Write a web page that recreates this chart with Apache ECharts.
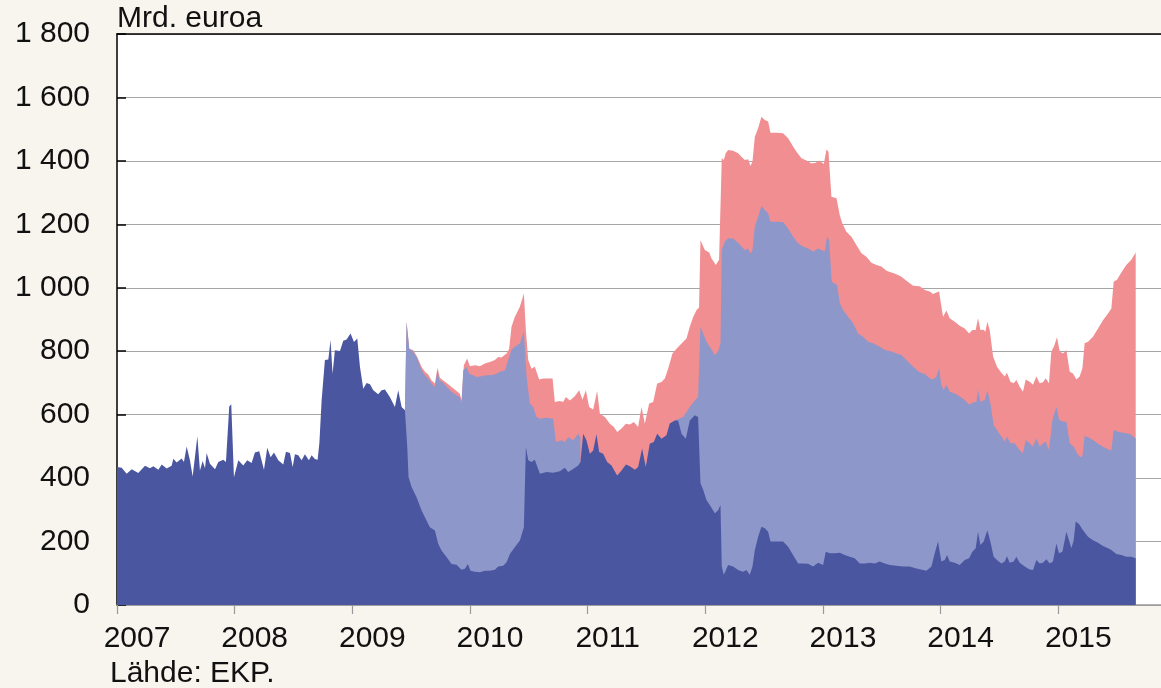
<!DOCTYPE html>
<html>
<head>
<meta charset="utf-8">
<title>Eurojärjestelmän rahapoliittiset erät</title>
<script src="https://cdn.jsdelivr.net/npm/echarts@6/dist/echarts.min.js"></script>
<style>
  html, body { margin: 0; padding: 0; background: #f8f4ee; }
  #chart { width: 1161px; height: 688px; }
</style>
</head>
<body>
<div id="chart"></div>
<script>
// Perusrahoitusoperaatiot (tumma sininen), pinnan taso
const mroDates = [
  2007.000, 2007.040, 2007.082, 2007.125, 2007.181, 2007.238, 2007.280, 2007.309, 2007.351, 2007.380,
  2007.422, 2007.464, 2007.479, 2007.507, 2007.549, 2007.569, 2007.592, 2007.620, 2007.643, 2007.683,
  2007.705, 2007.728, 2007.748, 2007.762, 2007.790, 2007.833, 2007.861, 2007.903, 2007.926, 2007.954,
  2007.971, 2007.994, 2008.031, 2008.073, 2008.107, 2008.144, 2008.172, 2008.209, 2008.249, 2008.277,
  2008.306, 2008.334, 2008.371, 2008.413, 2008.436, 2008.470, 2008.493, 2008.512, 2008.541, 2008.569,
  2008.597, 2008.631, 2008.654, 2008.682, 2008.705, 2008.720,
  2008.739, 2008.767, 2008.796, 2008.815, 2008.832, 2008.852, 2008.895, 2008.923, 2008.951, 2008.985,
  2009.014, 2009.042, 2009.065, 2009.093, 2009.121, 2009.150, 2009.178, 2009.220, 2009.249, 2009.277,
  2009.319, 2009.362, 2009.390, 2009.419, 2009.447, 2009.467, 2009.478, 2009.504, 2009.546, 2009.589,
  2009.617, 2009.659, 2009.702, 2009.730, 2009.758, 2009.801, 2009.843, 2009.886, 2009.928, 2009.957,
  2009.982, 2010.005, 2010.042, 2010.084, 2010.127, 2010.169, 2010.212, 2010.240, 2010.282, 2010.311,
  2010.339, 2010.381, 2010.424, 2010.458, 2010.475, 2010.495, 2010.523, 2010.551, 2010.594, 2010.651,
  2010.707, 2010.764, 2010.806, 2010.835, 2010.877, 2010.920, 2010.939, 2010.962, 2010.990, 2011.019,
  2011.047, 2011.075, 2011.098, 2011.132, 2011.166, 2011.203, 2011.251, 2011.288, 2011.325, 2011.359,
  2011.401, 2011.429, 2011.463, 2011.494, 2011.528, 2011.562, 2011.591, 2011.628, 2011.670, 2011.698,
  2011.741, 2011.769, 2011.798, 2011.834, 2011.868, 2011.911, 2011.939,
  2011.959, 2011.982, 2012.010, 2012.038, 2012.081, 2012.109, 2012.129, 2012.140, 2012.157, 2012.194,
  2012.236, 2012.279, 2012.321, 2012.350, 2012.378, 2012.401, 2012.421, 2012.449, 2012.477, 2012.506,
  2012.534, 2012.554, 2012.605, 2012.661, 2012.704, 2012.746, 2012.789, 2012.831, 2012.874, 2012.916,
  2012.959, 2013.001, 2013.024, 2013.058, 2013.100, 2013.143, 2013.185, 2013.228, 2013.270, 2013.313,
  2013.355, 2013.398, 2013.440, 2013.483, 2013.525, 2013.568, 2013.624, 2013.681, 2013.737, 2013.794,
  2013.851, 2013.879, 2013.922, 2013.950, 2013.978, 2014.006, 2014.035, 2014.055, 2014.077, 2014.120,
  2014.162, 2014.205, 2014.242, 2014.270, 2014.298, 2014.318, 2014.338, 2014.366, 2014.397, 2014.423,
  2014.451, 2014.479, 2014.516, 2014.545, 2014.564, 2014.587, 2014.621, 2014.644, 2014.672, 2014.715,
  2014.757, 2014.785, 2014.814, 2014.842, 2014.870, 2014.899, 2014.927, 2014.955, 2014.984, 2015.006,
  2015.035, 2015.069, 2015.091, 2015.111, 2015.131, 2015.148, 2015.176, 2015.210, 2015.253, 2015.295,
  2015.338, 2015.380, 2015.423, 2015.451, 2015.493, 2015.536, 2015.578, 2015.621, 2015.658
];
const mroValues = [
  435, 433, 414, 428, 416, 439, 431, 437, 426, 443,
  430, 439, 461, 449, 462, 451, 500, 456, 405, 532,
  424, 454, 431, 479, 445, 428, 451, 458, 451, 626,
  633, 403, 456, 440, 456, 448, 481, 485, 426, 496,
  466, 481, 456, 443, 483, 479, 435, 475, 472, 456,
  475, 456, 472, 460, 458, 511,
  645, 772, 774, 835, 729, 803, 801, 833, 837, 856,
  829, 840, 750, 682, 700, 696, 677, 664, 677, 679,
  656, 624, 677, 624, 614, 498, 403, 372, 340, 298,
  277, 245, 235, 193, 172, 151, 129, 127, 111, 114,
  129, 108, 105, 103, 108, 108, 111, 121, 124, 135,
  161, 182, 203, 245, 498, 456, 451, 458, 414, 419,
  417, 422, 433, 419, 429, 440, 451, 540, 519, 477,
  487, 538, 482, 477, 451, 440, 408, 424, 443, 437,
  426, 435, 493, 435, 508, 514, 540, 524, 535, 572,
  582, 582, 540, 524, 582, 598, 593,
  384, 363, 331, 315, 289, 299, 315, 121, 95, 126,
  121, 110, 105, 110, 95, 121, 173, 215, 247, 242,
  231, 200, 200, 200, 184, 158, 131, 131, 130, 121,
  133, 126, 168, 163, 163, 165, 158, 152, 147, 131,
  131, 133, 131, 137, 131, 126, 124, 121, 121, 115,
  110, 108, 121, 163, 200, 137, 142, 158, 137, 133,
  126, 142, 147, 168, 179, 231, 189, 200, 236, 200,
  152, 142, 131, 137, 154, 133, 137, 152, 133, 121,
  112, 110, 142, 131, 133, 144, 131, 137, 194, 163,
  168, 231, 204, 179, 204, 263, 255, 236, 215, 204,
  196, 186, 179, 173, 161, 158, 152, 152, 147
];

// Perusrahoitus + pitempiaikaiset operaatiot (vaalea sininen), pinnan taso
const ltroDates = [
  2009.447, 2009.461, 2009.484, 2009.518, 2009.552, 2009.589, 2009.617, 2009.645, 2009.674, 2009.702,
  2009.724, 2009.739, 2009.767, 2009.801, 2009.843, 2009.886, 2009.914, 2009.928, 2009.943, 2009.971,
  2009.993, 2010.027, 2010.056, 2010.098, 2010.141, 2010.183, 2010.226, 2010.254, 2010.297, 2010.325,
  2010.353, 2010.381, 2010.424, 2010.458, 2010.481, 2010.509, 2010.537, 2010.566, 2010.594, 2010.651,
  2010.707, 2010.730, 2010.778, 2010.806, 2010.835, 2010.877, 2010.920, 2010.939, 2010.960,
  2011.741, 2011.812, 2011.868, 2011.911, 2011.939,
  2011.959, 2011.982, 2012.010, 2012.038, 2012.081, 2012.109, 2012.129, 2012.140, 2012.166, 2012.194,
  2012.236, 2012.279, 2012.307, 2012.336, 2012.364, 2012.384, 2012.401, 2012.421, 2012.449, 2012.477,
  2012.506, 2012.534, 2012.554, 2012.605, 2012.661, 2012.704, 2012.746, 2012.789, 2012.831, 2012.874,
  2012.916, 2012.959, 2012.987, 2013.015, 2013.035, 2013.052, 2013.075, 2013.120, 2013.143, 2013.171,
  2013.213, 2013.256, 2013.299, 2013.341, 2013.383, 2013.426, 2013.483, 2013.525, 2013.582, 2013.624,
  2013.667, 2013.709, 2013.766, 2013.822, 2013.865, 2013.907, 2013.936, 2013.964, 2013.987, 2014.006,
  2014.026, 2014.049, 2014.077, 2014.120, 2014.162, 2014.205, 2014.242, 2014.276, 2014.304, 2014.318,
  2014.338, 2014.375, 2014.397, 2014.423, 2014.451, 2014.479, 2014.516, 2014.545, 2014.564, 2014.593,
  2014.630, 2014.649, 2014.672, 2014.700, 2014.723, 2014.757, 2014.785, 2014.814, 2014.842, 2014.870,
  2014.893, 2014.921, 2014.950, 2014.984, 2015.006, 2015.040, 2015.069, 2015.097, 2015.131, 2015.159,
  2015.188, 2015.205, 2015.224, 2015.253, 2015.295, 2015.338, 2015.380, 2015.423, 2015.451, 2015.471,
  2015.507, 2015.550, 2015.593, 2015.621, 2015.658
];
const ltroTopValues = [
  614, 893, 808, 798, 777, 740, 724, 714, 698, 687,
  740, 708, 703, 689, 672, 661, 656, 635, 740, 750,
  729, 724, 719, 721, 724, 724, 729, 735, 740, 772,
  805, 814, 824, 861, 719, 635, 624, 593, 587, 590,
  587, 514, 519, 514, 529, 519, 540, 529, null,
  582, 593, 624, 645, 656,
  877, 856, 830, 814, 788, 799, 825, 1119, 1145, 1156,
  1155, 1142, 1130, 1119, 1124, 1107, 1119, 1193, 1224, 1258,
  1245, 1235, 1208, 1208, 1207, 1187, 1161, 1140, 1130, 1124,
  1114, 1124, 1119, 1114, 1161, 1150, 1019, 1009, 951, 930,
  909, 888, 856, 846, 830, 825, 814, 804, 799, 793,
  788, 772, 751, 734, 728, 715, 711, 720, 746, 694,
  678, 694, 672, 667, 657, 646, 631, 638, 641, 678,
  641, 646, 676, 636, 567, 552, 531, 515, 531, 510,
  510, 499, 489, 478, 520, 510, 499, 525, 499, 510,
  515, 489, 583, 625, 585, 578, 578, 510, 499, 478,
  466, 470, 533, 529, 520, 508, 499, 491, 487, 552,
  546, 543, 541, 536, 525
];

// Kaikki erät yhteensä, arvopaperit mukaan lukien (punainen), pinnan taso
const totalDates = [
  2009.447, 2009.461, 2009.484, 2009.518, 2009.552, 2009.589, 2009.617, 2009.645, 2009.674, 2009.702,
  2009.724, 2009.744, 2009.773, 2009.807, 2009.843, 2009.886, 2009.914, 2009.928, 2009.948, 2009.976,
  2009.999, 2010.042, 2010.084, 2010.127, 2010.169, 2010.212, 2010.240, 2010.268, 2010.311, 2010.333,
  2010.353, 2010.381, 2010.424, 2010.458, 2010.475, 2010.495, 2010.523, 2010.551, 2010.588, 2010.622,
  2010.665, 2010.702, 2010.721, 2010.764, 2010.792, 2010.815, 2010.849, 2010.891, 2010.928, 2010.956,
  2010.985, 2011.013, 2011.047, 2011.081, 2011.104, 2011.146, 2011.189, 2011.223, 2011.251, 2011.288,
  2011.325, 2011.359, 2011.393, 2011.429, 2011.458, 2011.486, 2011.523, 2011.557, 2011.591, 2011.628,
  2011.656, 2011.684, 2011.721, 2011.755, 2011.798, 2011.840, 2011.868, 2011.897, 2011.925, 2011.947,
  2011.959, 2011.996, 2012.033, 2012.052, 2012.089, 2012.117, 2012.140, 2012.157, 2012.174, 2012.194,
  2012.236, 2012.279, 2012.307, 2012.336, 2012.364, 2012.384, 2012.401, 2012.421, 2012.449, 2012.477,
  2012.506, 2012.534, 2012.554, 2012.605, 2012.661, 2012.704, 2012.746, 2012.775, 2012.817, 2012.860,
  2012.902, 2012.939, 2012.967, 2013.007, 2013.030, 2013.047, 2013.072, 2013.115, 2013.143, 2013.165,
  2013.199, 2013.242, 2013.284, 2013.327, 2013.369, 2013.412, 2013.454, 2013.497, 2013.539, 2013.582,
  2013.624, 2013.667, 2013.709, 2013.766, 2013.822, 2013.865, 2013.907, 2013.936, 2013.964, 2013.987,
  2013.998, 2014.021, 2014.049, 2014.077, 2014.120, 2014.162, 2014.205, 2014.242, 2014.270, 2014.298,
  2014.318, 2014.338, 2014.366, 2014.380, 2014.397, 2014.417, 2014.446, 2014.479, 2014.516, 2014.545,
  2014.564, 2014.593, 2014.621, 2014.644, 2014.672, 2014.700, 2014.723, 2014.757, 2014.785, 2014.814,
  2014.842, 2014.870, 2014.893, 2014.921, 2014.941, 2014.964, 2014.989, 2015.012, 2015.040, 2015.069,
  2015.097, 2015.125, 2015.154, 2015.182, 2015.205, 2015.224, 2015.253, 2015.295, 2015.338, 2015.380,
  2015.423, 2015.451, 2015.471, 2015.499, 2015.536, 2015.578, 2015.621, 2015.658
];
const totalTopValues = [
  614, 893, 808, 803, 782, 750, 735, 727, 708, 698,
  748, 716, 708, 698, 687, 675, 666, 645, 756, 777,
  753, 756, 753, 761, 766, 772, 782, 780, 793, 808,
  877, 908, 940, 982, 866, 772, 745, 751, 711, 714,
  714, 714, 640, 643, 640, 656, 645, 658, 677, 647,
  677, 624, 616, 675, 603, 593, 571, 561, 545, 556,
  571, 569, 577, 561, 624, 571, 635, 640, 698, 703,
  714, 745, 793, 808, 824, 840, 877, 908, 929, 938,
  1150, 1119, 1111, 1093, 1072, 1088, 1408, 1403, 1424, 1434,
  1432, 1424, 1413, 1403, 1405, 1384, 1398, 1476, 1503, 1539,
  1529, 1524, 1489, 1489, 1487, 1471, 1445, 1429, 1408, 1401,
  1392, 1394, 1401, 1390, 1436, 1429, 1287, 1282, 1229, 1203,
  1177, 1161, 1135, 1109, 1098, 1079, 1072, 1067, 1054, 1048,
  1043, 1035, 1022, 1006, 1005, 993, 988, 980, 985, 988,
  961, 909, 928, 904, 893, 880, 872, 856, 867, 867,
  904, 867, 868, 861, 893, 867, 783, 751, 732, 720,
  732, 704, 699, 709, 688, 672, 711, 704, 694, 720,
  699, 702, 715, 699, 799, 816, 844, 799, 793, 804,
  735, 730, 711, 720, 746, 825, 830, 846, 872, 898,
  919, 935, 1019, 1025, 1048, 1072, 1088, 1111
];

const yearTicks = [2007, 2008, 2009, 2010, 2011, 2012, 2013, 2014, 2015];

const FONT = "'Liberation Sans', Arial, sans-serif";
const zip = (xs, ys) => xs.map((x, i) => [x, ys[i]]);
const fmtThousands = (v) => String(v).replace(/\B(?=(\d{3})+(?!\d))/g, ' ');

const chart = echarts.init(document.getElementById('chart'));

const areaSeries = (name, xs, ys, color, z) => ({
  name,
  type: 'line',
  data: zip(xs, ys),
  showSymbol: false,
  symbol: 'none',
  connectNulls: false,
  z,
  lineStyle: { width: 0 },
  areaStyle: { color, opacity: 1 },
  emphasis: { disabled: true },
});

const option = {
  backgroundColor: '#f8f4ee',
  animation: false,
  textStyle: { fontFamily: FONT },
  grid: {
    left: 117,
    right: 0,
    top: 34,
    bottom: 83,
    show: true,
    backgroundColor: '#ffffff',
    borderWidth: 0,
  },
  xAxis: [
    {
      type: 'value',
      min: 2007,
      max: 2015.873,
      interval: 1,
      axisLine: { show: true, lineStyle: { color: '#9a9a9a', width: 1.5 } },
      axisTick: { show: true, inside: false, length: 9, lineStyle: { color: '#9a9a9a', width: 1.2 } },
      splitLine: { show: false },
      axisLabel: {
        showMaxLabel: false,
        fontFamily: FONT,
        fontSize: 30,
        color: '#111',
        margin: 19,
        padding: [0, 0, 0, 40],
        formatter: (v) => (yearTicks.includes(v) ? String(v) : ''),
      },
    },
    {
      type: 'value',
      position: 'top',
      min: 2007,
      max: 2015.873,
      axisLine: { show: true, onZero: false, lineStyle: { color: '#000', width: 1.5 } },
      axisTick: { show: false },
      axisLabel: { show: false },
      splitLine: { show: false },
    },
  ],
  yAxis: {
    type: 'value',
    min: 0,
    max: 1800,
    interval: 200,
    axisLine: { show: true, lineStyle: { color: '#000', width: 1.5 } },
    axisTick: { show: true, inside: true, length: 9, lineStyle: { color: '#000', width: 1.5 } },
    splitLine: { show: true, lineStyle: { color: '#a6a6a6', width: 1.2 } },
    axisLabel: {
      fontFamily: FONT,
      fontSize: 30,
      color: '#111',
      margin: 27,
      formatter: fmtThousands,
    },
  },
  graphic: [
    {
      type: 'text',
      left: 117,
      top: 4,
      style: { text: 'Mrd. euroa', font: '30px ' + FONT, fill: '#111' },
    },
    {
      type: 'text',
      left: 110,
      top: 659,
      style: { text: 'Lähde: EKP.', font: '30px ' + FONT, fill: '#111' },
    },
  ],
  series: [
    areaSeries('Rahapoliittisista syistä hallussa pidetyt arvopaperit', totalDates, totalTopValues, '#f08e92', 2),
    areaSeries('Pitempiaikaiset rahoitusoperaatiot', ltroDates, ltroTopValues, '#8e97ca', 3),
    areaSeries('Perusrahoitusoperaatiot', mroDates, mroValues, '#4b56a1', 4),
  ],
};

chart.setOption(option);
window.addEventListener('resize', () => chart.resize());
</script>
</body>
</html>
